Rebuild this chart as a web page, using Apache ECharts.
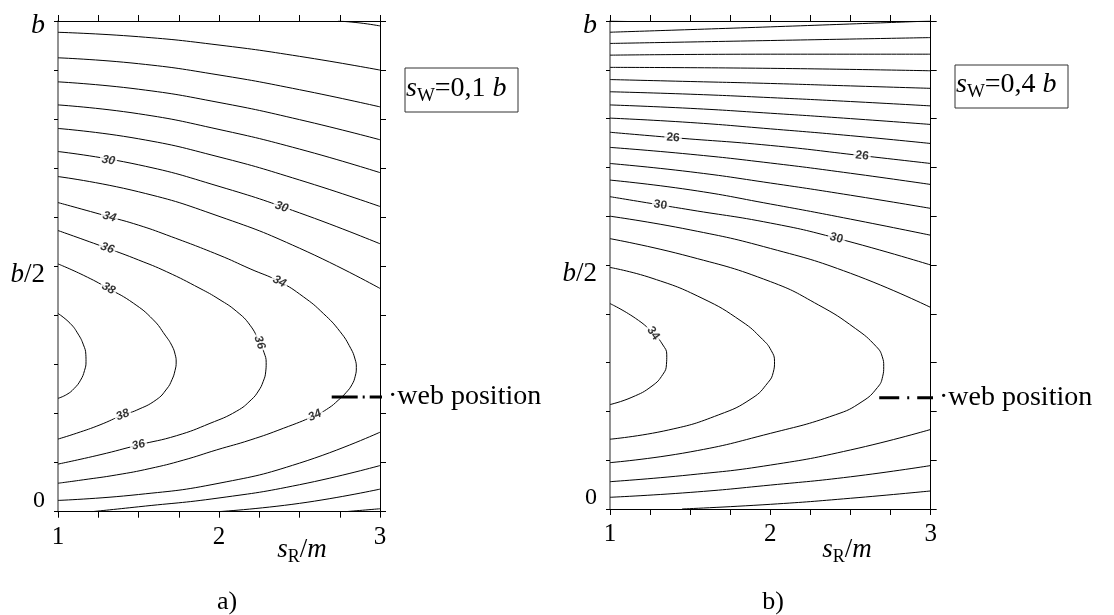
<!DOCTYPE html>
<html><head><meta charset="utf-8">
<script src="https://cdn.jsdelivr.net/npm/echarts@6/dist/echarts.min.js"></script>
<style>html,body{margin:0;padding:0;background:#fff}#c{width:1114px;height:615px}</style>
</head><body><div id="c"></div>
<script>
// ---------- tick labels ----------
const xTickLabels = ['1', '2', '3'];
const yTickLabels = ['0', 'b/2', 'b'];
const captions = ['a)', 'b)'];
const sWValues = ['0,1', '0,4'];
const webText = 'web position';

// ---------- panel a contours  [sR/m , y/b] ----------
const a18 = [[2.739,1.0],[2.876,0.996],[3,0.990]];
const a20 = [[1,0.977],[1.5,0.968],[2,0.951],[2.5,0.928],[3,0.900]];
const a22 = [[1,0.925],[1.5,0.913],[2,0.890],[2.5,0.860],[3,0.825]];
const a24 = [[1,0.876],[1.5,0.861],[2,0.834],[2.5,0.799],[3,0.758]];
const a26 = [[1,0.829],[1.5,0.811],[2,0.779],[2.5,0.739],[3,0.691]];
const a28 = [[1,0.781],[1.5,0.760],[2,0.723],[2.5,0.676],[3,0.622]];
const a30 = [[1,0.734],[1.5,0.707],[2,0.663],[2.5,0.609],[3,0.546]];
const a32 = [[1,0.683],[1.5,0.652],[2,0.602],[2.5,0.537],[3,0.455]];
const a34 = [[1,0.630],[1.319,0.601],[1.5,0.584],[1.675,0.564],[2,0.523],[2.193,0.495],[2.375,0.469],[2.524,0.438],[2.648,0.404],[2.752,0.367],[2.818,0.333],[2.845,0.311],[2.853,0.294],[2.846,0.276],[2.826,0.259],[2.790,0.243],[2.740,0.227],[2.680,0.211],[2.596,0.196],[2.4,0.170],[2.193,0.146],[1.986,0.126],[1.778,0.105],[1.571,0.088],[1.364,0.075],[1.157,0.065],[1,0.058]];
const a36 = [[1,0.573],[1.306,0.537],[1.5,0.513],[1.675,0.489],[1.882,0.455],[2,0.433],[2.110,0.408],[2.193,0.380],[2.252,0.345],[2.280,0.324],[2.293,0.304],[2.290,0.285],[2.274,0.265],[2.245,0.246],[2.200,0.228],[2.110,0.205],[1.944,0.180],[1.737,0.155],[1.5,0.136],[1.261,0.116],[1,0.097]];
const a38 = [[1,0.505],[1.157,0.482],[1.313,0.455],[1.468,0.425],[1.592,0.391],[1.665,0.360],[1.708,0.338],[1.728,0.320],[1.734,0.305],[1.727,0.288],[1.708,0.269],[1.675,0.250],[1.610,0.228],[1.489,0.207],[1.402,0.197],[1.261,0.177],[1.116,0.160],[1,0.148]];
const a40 = [[1,0.404],[1.075,0.384],[1.125,0.362],[1.158,0.340],[1.173,0.320],[1.174,0.306],[1.165,0.288],[1.140,0.268],[1.100,0.251],[1.055,0.239],[1,0.231]];
const a32low = [[1,0.023],[1.5,0.035],[2,0.058],[2.5,0.099],[3,0.162]];
const a30low = [[1.209,0],[1.5,0.010],[2,0.028],[2.5,0.055],[3,0.094]];
const a28low = [[1.994,0],[2.5,0.017],[3,0.046]];
const a26low = [[2.783,0],[3,0.006]];

// ---------- panel b contours ----------
const b17 = [[1,1.0],[1.106,0.999]];
const b18 = [[1,0.977],[2,0.988],[3,1.0]];
const b19 = [[1,0.954],[2,0.960],[3,0.966]];
const b20 = [[1,0.930],[2,0.932],[3,0.932]];
const b21 = [[1,0.905],[2,0.903],[3,0.898]];
const b22 = [[1,0.880],[1.5,0.876],[2,0.872],[2.5,0.867],[3,0.862]];
const b23 = [[1,0.855],[1.5,0.850],[2,0.843],[2.5,0.835],[3,0.826]];
const b24 = [[1,0.828],[1.5,0.821],[2,0.811],[2.5,0.800],[3,0.788]];
const b25 = [[1,0.801],[1.5,0.792],[2,0.779],[2.5,0.765],[3,0.749]];
const b26 = [[1,0.772],[1.393,0.761],[2,0.745],[2.572,0.724],[3,0.708]];
const b27 = [[1,0.741],[1.5,0.727],[2,0.709],[2.5,0.688],[3,0.665]];
const b28 = [[1,0.708],[1.5,0.691],[2,0.668],[2.5,0.643],[3,0.616]];
const b29 = [[1,0.674],[1.5,0.654],[2,0.625],[2.5,0.594],[3,0.561]];
const b30 = [[1,0.640],[1.314,0.623],[1.5,0.613],[2,0.586],[2.412,0.555],[3,0.500]];
const b31 = [[1,0.600],[1.5,0.572],[2,0.534],[2.5,0.483],[3,0.413]];
const b32 = [[1,0.554],[1.5,0.517],[2,0.466],[2.301,0.418],[2.530,0.370],[2.660,0.333],[2.698,0.312],[2.707,0.292],[2.700,0.271],[2.668,0.249],[2.572,0.220],[2.405,0.193],[2,0.155],[1.5,0.117],[1,0.095]];
const b33 = [[1,0.495],[1.262,0.473],[1.574,0.432],[1.823,0.384],[1.950,0.348],[2.005,0.325],[2.026,0.302],[2.018,0.280],[1.985,0.259],[1.886,0.227],[1.678,0.193],[1.366,0.162],[1,0.143]];
const b34 = [[1,0.421],[1.158,0.391],[1.270,0.360],[1.330,0.336],[1.354,0.316],[1.352,0.296],[1.330,0.276],[1.262,0.252],[1.137,0.229],[1,0.214]];
const b31low = [[1,0.056],[1.5,0.070],[2,0.090],[2.5,0.121],[3,0.163]];
const b30low = [[1,0.024],[1.5,0.034],[2,0.049],[2.5,0.066],[3,0.089]];
const b29low = [[1.449,0],[2,0.0096],[2.5,0.022],[3,0.037]];

// ---------- contour labels [x, y, text] ----------
const labelsA = [[1.313,0.716,'30'],[2.389,0.621,'30'],[1.319,0.601,'34'],[2.375,0.469,'34'],[2.596,0.196,'34'],[1.306,0.537,'36'],[2.252,0.345,'36'],[1.5,0.136,'36'],[1.313,0.455,'38'],[1.402,0.197,'38']];
const anglesA = [-10,-18,-16,-27,25,-20,-72,14,-30,22];
const labelsB = [[1.393,0.761,'26'],[2.572,0.724,'26'],[1.314,0.623,'30'],[2.412,0.555,'30'],[1.270,0.360,'34']];
const anglesB = [-4,-7,-8,-16,-55];

// ---------- web position line ----------
const webA = [[2.700,0.234],[3.073,0.234]];
const webB = [[2.679,0.228],[3.058,0.228]];

const contoursA = [a18,a20,a22,a24,a26,a28,a30,a32,a34,a36,a38,a40,a32low,a30low,a28low,a26low];
const contoursB = [b17,b18,b19,b20,b21,b22,b23,b24,b25,b26,b27,b28,b29,b30,b31,b32,b33,b34,b31low,b30low,b29low];

const SERIF = 'Liberation Serif';
const chart = echarts.init(document.getElementById('c'), null, {renderer:'canvas'});

function near(a,b){return Math.abs(a-b)<1e-6;}
function xFmt(v){ for(let i=0;i<3;i++){ if(near(v,i+1)) return xTickLabels[i]; } return ''; }
function yFmt(v){
  if(near(v,0)) return '{z|'+yTickLabels[0]+'}';
  if(near(v,0.5)){ const p=yTickLabels[1].split('/'); return '{hi|'+p[0]+'}{hn|/'+p[1]+'}'; }
  if(near(v,1)) return '{t|'+yTickLabels[2]+'}';
  return '';
}
const yRich = {
  z:{fontFamily:SERIF,fontSize:24,color:'#000',padding:[0,0,22,0]},
  t:{fontFamily:SERIF,fontStyle:'italic',fontSize:28,color:'#000',padding:[10,0,0,0]},
  hi:{fontFamily:SERIF,fontStyle:'italic',fontSize:27,color:'#000',padding:[18,0,0,0]},
  hn:{fontFamily:SERIF,fontSize:27,color:'#000',padding:[18,0,0,0]}
};

function mkX(gi,pos){
  return {gridIndex:gi,type:'value',position:pos,min:1,max:3,interval:0.25,
    splitLine:{show:false},
    axisLine:{show:true,onZero:false,lineStyle:{color:'#000',width:1}},
    axisTick:{show:true,inside:false,length:6,lineStyle:{color:'#000',width:1}},
    axisLabel: pos==='bottom' ? {show:true,formatter:xFmt,fontFamily:SERIF,fontSize:25,color:'#000',margin:13,showMinLabel:true,showMaxLabel:true} : {show:false}
  };
}
function mkY(gi,pos){
  const left = pos==='left';
  return {gridIndex:gi,type:'value',position:pos,min:0,max:1,interval:0.1,
    splitLine:{show:false},
    axisLine:{show:true,onZero:false,lineStyle:{color:left?'#777':'#000',width:left?1.6:1}},
    axisTick:{show:true,inside:false,length:left?4:6,lineStyle:{color:'#000',width:1}},
    axisLabel: left ? {show:true,formatter:yFmt,rich:yRich,margin:13,showMinLabel:true,showMaxLabel:true} : {show:false}
  };
}

const series = [];
function addPanel(contours, labels, angles, web, xi, yi, italic){
  contours.forEach(c=>series.push({type:'line',xAxisIndex:xi,yAxisIndex:yi,data:c,smooth:0.5,
    symbol:'none',showSymbol:false,silent:true,lineStyle:{color:'#000',width:1},z:2}));
  series.push({type:'scatter',xAxisIndex:xi,yAxisIndex:yi,symbolSize:2,itemStyle:{color:'rgba(255,255,255,0)'},silent:true,z:5,
    data:labels.map((d,i)=>({value:d,label:{rotate:angles[i]}})),
    label:{show:true,position:'inside',formatter:p=>p.value[2],fontFamily:'Liberation Sans',fontWeight:'bold',
      fontStyle:italic?'italic':'normal',fontSize:12,color:'#000',backgroundColor:'#fff',padding:[0,2]}});
  series.push({type:'line',xAxisIndex:xi,yAxisIndex:yi,data:web,symbol:'none',clip:false,silent:true,z:6,
    lineStyle:{color:'#000',width:3,type:xi===0?[26,5,2,5]:[20,8,2,8]},
    endLabel:{show:true,formatter:'\u00b7'+webText,fontFamily:SERIF,fontSize:28,color:'#000',distance:6}});
}
addPanel(contoursA, labelsA, anglesA, webA, 0, 0, true);
addPanel(contoursB, labelsB, anglesB, webB, 2, 2, false);

const labRich = {
  si:{fontFamily:SERIF,fontStyle:'italic',fontSize:27,color:'#000',verticalAlign:'bottom',padding:[0,0,3,0]},
  sb:{fontFamily:SERIF,fontSize:18,color:'#000',verticalAlign:'bottom'},
  n:{fontFamily:SERIF,fontSize:27,color:'#000',verticalAlign:'bottom',padding:[0,0,3,0]},
  mi:{fontFamily:SERIF,fontStyle:'italic',fontSize:27,color:'#000',verticalAlign:'bottom',padding:[0,0,3,0]}
};
const boxRich = {
  si:{fontFamily:SERIF,fontStyle:'italic',fontSize:28,color:'#000',verticalAlign:'bottom',padding:[0,0,3,0]},
  sb:{fontFamily:SERIF,fontSize:19,color:'#000',verticalAlign:'bottom'},
  n:{fontFamily:SERIF,fontSize:28,color:'#000',verticalAlign:'bottom',padding:[0,0,3,0]},
  bi:{fontFamily:SERIF,fontStyle:'italic',fontSize:28,color:'#000',verticalAlign:'bottom',padding:[0,0,3,0]}
};
const graphic = [];
const panels = [
  {axisLabelX:302, capX:227, boxX:405, boxY:68, boxH:44},
  {axisLabelX:847, capX:773, boxX:955, boxY:65, boxH:43}
];
panels.forEach((p,i)=>{
  graphic.push({type:'text',x:p.axisLabelX,y:551,style:{text:'{si|s}{sb|R}{n|/}{mi|m}',rich:labRich,align:'center',verticalAlign:'middle'}});
  graphic.push({type:'text',x:p.capX,y:602,style:{text:captions[i],font:'26px "Liberation Serif"',fill:'#000',align:'center',verticalAlign:'middle'}});
  graphic.push({type:'rect',shape:{x:p.boxX,y:p.boxY,width:113,height:p.boxH},style:{fill:'#fff',stroke:'#333',lineWidth:1}});
  graphic.push({type:'text',x:p.boxX+1,y:p.boxY+p.boxH/2,style:{text:'{si|s}{sb|W}{n|='+sWValues[i]+' }{bi|b}',rich:boxRich,align:'left',verticalAlign:'middle'}});
});

chart.setOption({
  animation:false,
  backgroundColor:'#fff',
  grid:[{left:58,top:21,width:322,height:490.7,outerBoundsMode:'none'},{left:610,top:21,width:320.7,height:488,outerBoundsMode:'none'}],
  xAxis:[mkX(0,'bottom'),mkX(0,'top'),mkX(1,'bottom'),mkX(1,'top')],
  yAxis:[mkY(0,'left'),mkY(0,'right'),mkY(1,'left'),mkY(1,'right')],
  series:series,
  graphic:graphic
});
</script></body></html>
